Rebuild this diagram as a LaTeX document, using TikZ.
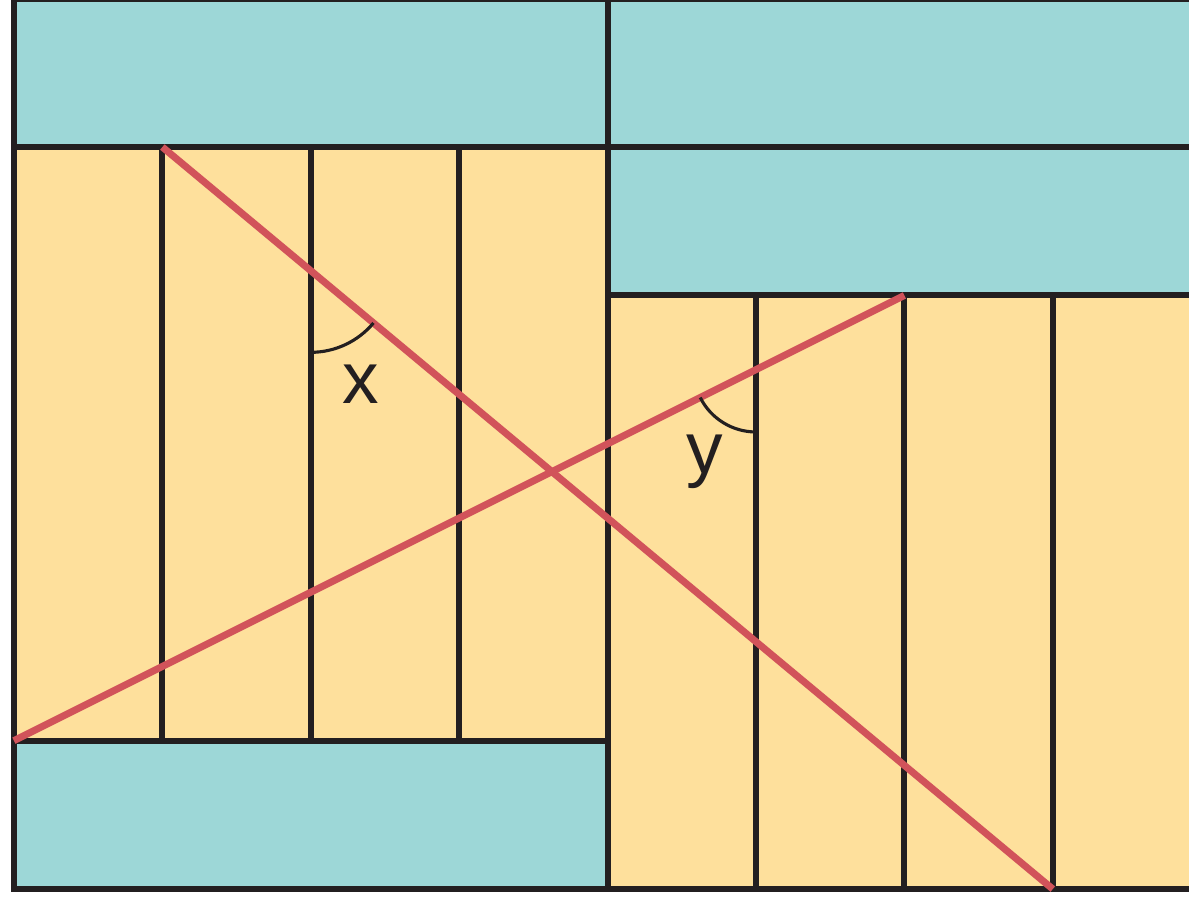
\documentclass[tikz,border=0pt]{standalone}
\usepackage{fontspec}
\setmainfont{Liberation Sans}
\definecolor{bandteal}{HTML}{9DD7D7}
\definecolor{stripsand}{HTML}{FEE09C}
\definecolor{crossred}{HTML}{D1535A}
\definecolor{inkline}{HTML}{231F20}
\tikzset{
  edge/.style={draw=inkline, line width=1.15pt},
  cross/.style={draw=crossred, line width=1.35pt},
  anglearc/.style={draw=inkline, line width=0.6pt},
  anglelabel/.style={font=\fontsize{14}{16}\selectfont, text=inkline}
}
\begin{document}
\begin{tikzpicture}
\useasboundingbox (-0.094,-0.067) rectangle (7.918,5.991);
% teal bands
\fill[bandteal] (0,5)--(8.2,5)--(8.2,6)--(0,6)--cycle;
\fill[bandteal] (4,4)--(8.2,4)--(8.2,5)--(4,5)--cycle;
\fill[bandteal] (0,0)--(4,0)--(4,1)--(0,1)--cycle;
% strips
\fill[stripsand] (0,1)--(4,1)--(4,5)--(0,5)--cycle;
\fill[stripsand] (4,0)--(8.2,0)--(8.2,4)--(4,4)--cycle;
% outlines
\draw[edge] (8.2,6)--(0,6)--(0,0)--(8.2,0);
\draw[edge] (0,5)--(8.2,5);
\draw[edge] (4,4)--(8.2,4);
\draw[edge] (0,1)--(4,1);
\draw[edge] (4,0)--(4,6);
\draw[edge] (1,1)--(1,5);
\draw[edge] (2,1)--(2,5);
\draw[edge] (3,1)--(3,5);
\draw[edge] (5,0)--(5,4);
\draw[edge] (6,0)--(6,4);
\draw[edge] (7,0)--(7,4);
% crossing lines
\coordinate (topA) at (1,5);
\coordinate (botA) at (7,0);
\coordinate (botB) at (0,1);
\coordinate (topB) at (6,4);
\draw[cross] (topA)--(botA);
\draw[cross] (botB)--(topB);
% angles
\coordinate (vx) at (2,{5-5/6});
\coordinate (vy) at (5,3.5);
\draw[anglearc] ([shift={(270:0.55)}]vx) arc[start angle=270, end angle=320.19, radius=0.55];
\draw[anglearc] ([shift={(270:0.42)}]vy) arc[start angle=270, end angle=206.57, radius=0.42];
\node[anglelabel] (labx) at (2.335,3.40) {x};
\node[anglelabel] (laby) at (4.655,2.876) {y};
\end{tikzpicture}
\end{document}
